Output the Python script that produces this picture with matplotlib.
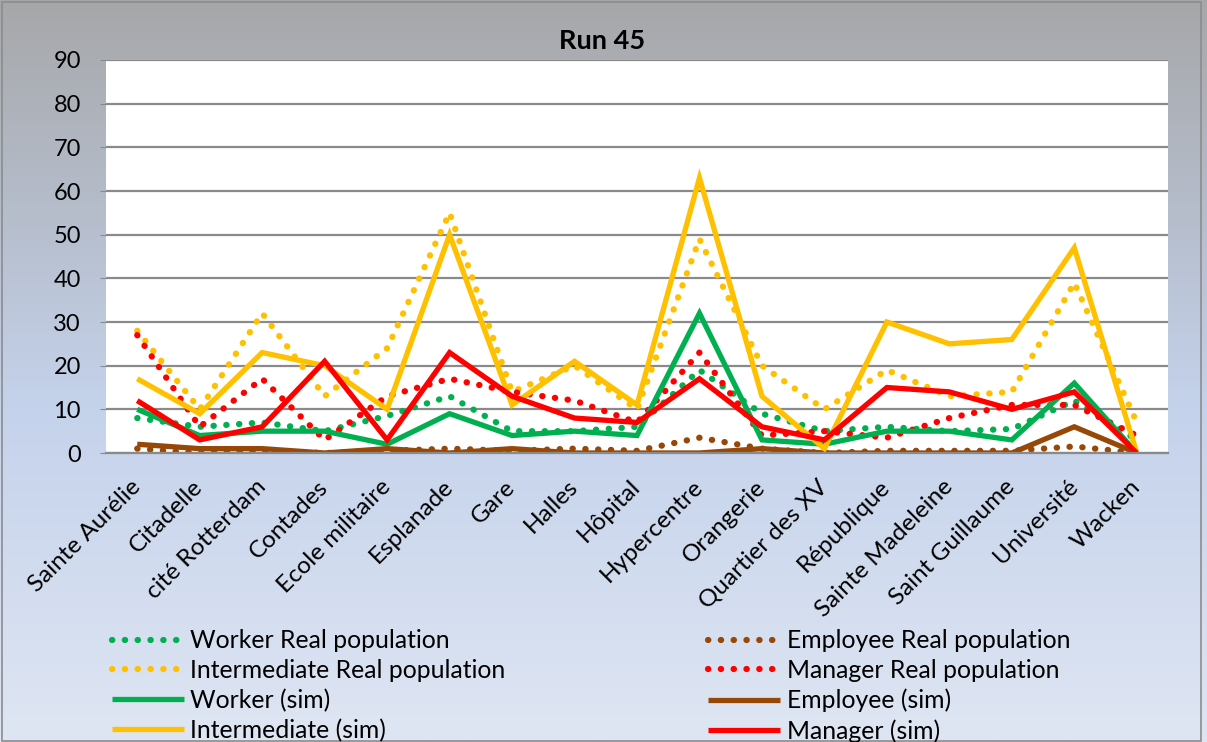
import matplotlib
matplotlib.use("Agg")
import matplotlib.pyplot as plt
import numpy as np
from matplotlib.colors import LinearSegmentedColormap
from matplotlib.patches import Rectangle

plt.rcParams['font.family'] = ['Lato', 'DejaVu Sans']

categories = ["Sainte Aurélie", "Citadelle", "cité Rotterdam", "Contades", "Ecole militaire",
              "Esplanade", "Gare", "Halles", "Hôpital", "Hypercentre", "Orangerie",
              "Quartier des XV", "République", "Sainte Madeleine", "Saint Guillaume",
              "Université", "Wacken"]

worker_real = [8, 6, 7, 5, 8.5, 13, 5, 5, 6, 19, 9, 5, 6, 5, 5.5, 12, 3]
employee_real = [1, 0, 0.5, 0, 0.5, 1, 0.5, 1, 0.5, 3.5, 1, 0, 0.5, 0.5, 0.5, 1.5, 0]
intermediate_real = [28, 10, 32, 13, 24, 55, 14, 20, 10, 49, 20, 10, 19, 13, 14, 39, 7]
manager_real = [27, 6, 17, 3, 13, 17, 14, 12, 7, 23, 4, 5, 3.5, 8, 11, 11, 4]
worker_sim = [10, 4, 5, 5, 2, 9, 4, 5, 4, 32, 3, 2, 5, 5, 3, 16, 0]
employee_sim = [2, 1, 1, 0, 1, 0, 1, 0, 0, 0, 1, 0, 0, 0, 0, 6, 0]
intermediate_sim = [17, 9, 23, 20, 10, 50, 11, 21, 11, 63, 13, 1, 30, 25, 26, 47, 0]
manager_sim = [12, 3, 6, 21, 3, 23, 13, 8, 7, 17, 6, 3, 15, 14, 10, 14, 0]

title = "Run 45"
yticks = [0, 10, 20, 30, 40, 50, 60, 70, 80, 90]

GREEN = "#00B050"
YELLOW = "#FFC000"
RED = "#FF0000"
BROWN = "#974806"

W, H = 1207, 742
fig = plt.figure(figsize=(W / 100, H / 100), dpi=100)

# background gradient
bg = fig.add_axes([0, 0, 1, 1], zorder=-10)
cmap = LinearSegmentedColormap.from_list("bg", [(0.0, "#a6a7a9"), (0.55, "#c4d2eb"), (1.0, "#dfe6f3")])
grad = np.linspace(0, 1, 256).reshape(-1, 1)
bg.imshow(grad, aspect="auto", cmap=cmap, extent=[0, 1, 1, 0])
bg.set_xlim(0, 1)
bg.set_ylim(1, 0)
bg.axis("off")
bg.add_patch(Rectangle((0.002, 0.002), 0.993, 0.995, fill=False, edgecolor="#8c8c8c", lw=1.2,
                       transform=bg.transAxes))

left, right = 106 / W, 1168 / W
top, bottom = 1 - 60 / H, 1 - 453 / H
ax = fig.add_axes([left, bottom, right - left, top - bottom])
ax.set_facecolor("white")

x = np.arange(len(categories))
dot = (0, (0.05, 2.0))
kw_dot = dict(lw=4.5, linestyle=dot, dash_capstyle="round", solid_capstyle="round")
kw_sol = dict(lw=3.8, solid_joinstyle="miter", solid_capstyle="butt")

h_wr, = ax.plot(x, worker_real, color=GREEN, label="Worker Real population", **kw_dot)
h_er, = ax.plot(x, employee_real, color=BROWN, label="Employee Real population", **kw_dot)
h_ir, = ax.plot(x, intermediate_real, color=YELLOW, label="Intermediate Real population", **kw_dot)
h_mr, = ax.plot(x, manager_real, color=RED, label="Manager Real population", **kw_dot)
h_ws, = ax.plot(x, worker_sim, color=GREEN, label="Worker (sim)", **kw_sol)
h_es, = ax.plot(x, employee_sim, color=BROWN, label="Employee (sim)", **kw_sol)
h_is, = ax.plot(x, intermediate_sim, color=YELLOW, label="Intermediate (sim)", **kw_sol)
h_ms, = ax.plot(x, manager_sim, color=RED, label="Manager (sim)", **kw_sol)

ax.set_xlim(-0.5, len(categories) - 0.5)
ax.set_ylim(0, 90)
ax.set_yticks(yticks)
ax.set_yticklabels([str(t) for t in yticks], fontsize=17)
ax.yaxis.grid(True, color="#8a8a8a", lw=1.6)
ax.set_axisbelow(True)
ax.tick_params(axis="y", length=4, color="#8a8a8a", pad=14)
ax.set_xticks(x)
ax.set_xticklabels(categories, rotation=45, ha="right", va="center", rotation_mode="anchor",
                   fontsize=17.5)
ax.tick_params(axis="x", length=0, pad=22)
for s in ["top", "right", "left"]:
    ax.spines[s].set_visible(False)
ax.spines["bottom"].set_color("#8a8a8a")
ax.spines["bottom"].set_linewidth(1.6)

fig.text(0.4985, 1 - 41 / H, title, ha="center", va="center", fontsize=19.5, fontweight="bold")

handles = [h_wr, h_ir, h_ws, h_is, h_er, h_mr, h_es, h_ms]
leg = fig.legend(handles=handles, labels=[h.get_label() for h in handles], ncol=2,
                 loc="upper left", bbox_to_anchor=(0.0845, 0.165), frameon=False,
                 fontsize=17.8, handlelength=2.9, handletextpad=0.28, labelspacing=0.27,
                 columnspacing=8.2, borderaxespad=0)

fig.savefig("out.png", dpi=100)
